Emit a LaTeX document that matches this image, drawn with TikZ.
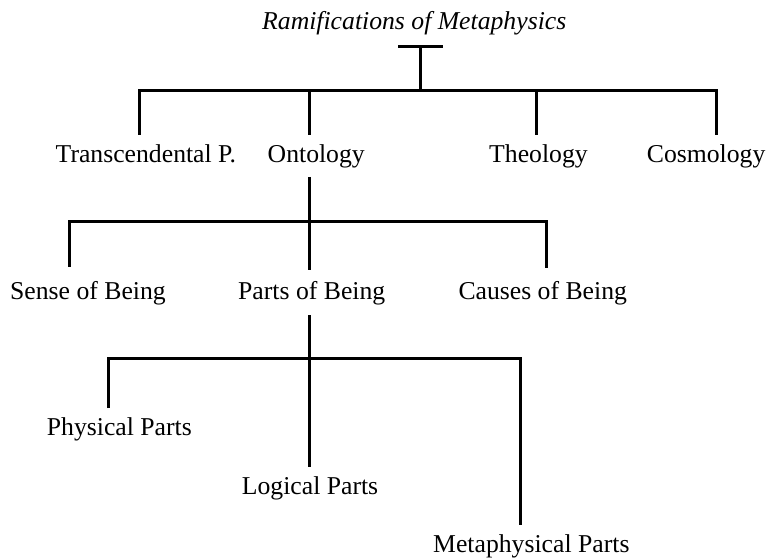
\documentclass[tikz,border=0pt]{standalone}
\usepackage{fontspec}
\setmainfont{Liberation Serif}
\begin{document}
\begin{tikzpicture}[x=1pt,y=-1pt,
  lbl/.style={anchor=base west,inner sep=0pt,font=\fontsize{25.7}{30}\selectfont},
  conn/.style={line width=2.2pt,line join=miter}]
\useasboundingbox[fill=white] (0,0) rectangle (769,559);
% labels
\node[lbl,font=\fontsize{25.7}{30}\selectfont\itshape] (title) at (262,30) {Ramifications of Metaphysics};
\node[lbl] (trans) at (55.5,163) {Transcendental P.};
\node[lbl] (onto) at (267.5,163) {Ontology};
\node[lbl] (theo) at (489,163) {Theology};
\node[lbl] (cosmo) at (646.7,163) {Cosmology};
\node[lbl] (sense) at (10,299) {Sense of Being};
\node[lbl] (parts) at (238,299) {Parts of Being};
\node[lbl] (causes) at (458.3,299) {Causes of Being};
\node[lbl] (phys) at (46.7,435) {Physical Parts};
\node[lbl] (logic) at (241.7,494) {Logical Parts};
\node[lbl] (meta) at (433,552) {Metaphysical Parts};
% junction coordinates
\coordinate (tbL) at (398,46.5);
\coordinate (tbR) at (443,46.5);
\coordinate (tbM) at (420.5,46.5);
\coordinate (b1M) at (420.5,90.5);
\coordinate (b1a) at (139.5,90.5);
\coordinate (b1b) at (309.5,90.5);
\coordinate (b1c) at (536.5,90.5);
\coordinate (b1d) at (716.5,90.5);
\coordinate (e1a) at (139.5,135);
\coordinate (e1b) at (309.5,135);
\coordinate (e1c) at (536.5,135);
\coordinate (e1d) at (716.5,135);
\coordinate (s2) at (309.5,177);
\coordinate (b2a) at (69.5,221.5);
\coordinate (b2c) at (546.5,221.5);
\coordinate (e2a) at (69.5,266.7);
\coordinate (e2b) at (309.5,270);
\coordinate (e2c) at (546.5,268);
\coordinate (s3) at (309.5,315);
\coordinate (b3a) at (108.5,358.5);
\coordinate (b3c) at (520.5,358.5);
\coordinate (e3a) at (108.5,408);
\coordinate (e3b) at (309.5,466.7);
\coordinate (e3c) at (520.5,525);
% connectors
\draw[conn] (tbL) -- (tbR);
\draw[conn] (tbM) -- (b1M);
\draw[conn] (e1a) -- (b1a) -- (b1d) -- (e1d);
\draw[conn] (b1b) -- (e1b);
\draw[conn] (b1c) -- (e1c);
\draw[conn] (s2) -- (e2b);
\draw[conn] (e2a) -- (b2a) -- (b2c) -- (e2c);
\draw[conn] (s3) -- (e3b);
\draw[conn] (e3a) -- (b3a) -- (b3c) -- (e3c);
\end{tikzpicture}
\end{document}
